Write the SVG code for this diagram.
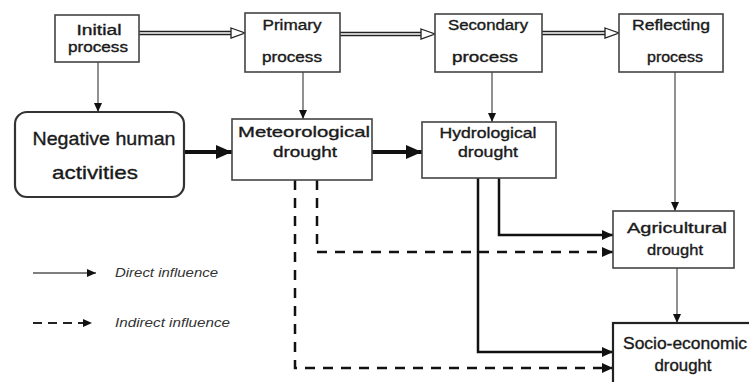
<svg xmlns="http://www.w3.org/2000/svg" width="749" height="382" viewBox="0 0 749 382">
<style>
  .box { fill: #fff; stroke: #444; stroke-width: 1.6; }
  .rbox { fill: #fff; stroke: #333; stroke-width: 2.2; }
  .t { font-family: "Liberation Sans", Arial, sans-serif; fill: #1a1a1a; stroke: #1a1a1a; stroke-width: 0.35; text-anchor: middle; }
  .tp { font-size: 14px; }
  .td { font-size: 15px; }
  .tn { font-size: 19px; }
  .ts { font-size: 16px; }
  .lg { font-family: "Liberation Sans", Arial, sans-serif; font-style: italic; font-size: 12px; fill: #333; }
  .thin { fill: none; stroke: #555; stroke-width: 1.3; }
  .thick { fill: none; stroke: #111; stroke-width: 4; }
  .solid { fill: none; stroke: #111; stroke-width: 2.5; }
  .dash { fill: none; stroke: #111; stroke-width: 2.5; stroke-dasharray: 10 8; }
  .dbl-o { fill: none; stroke: #222; stroke-width: 4.5; }
  .dbl-i { fill: none; stroke: #fff; stroke-width: 1.6; }
  .hollow { fill: #fff; stroke: #222; stroke-width: 1.3; }
</style>
<defs>
  <marker id="big" markerUnits="userSpaceOnUse" markerWidth="16" markerHeight="14" refX="16" refY="7" orient="auto">
    <path d="M0,0 L16,7 L0,14 z" fill="#111"/>
  </marker>
  <marker id="small" markerUnits="userSpaceOnUse" markerWidth="9" markerHeight="8" refX="9" refY="4" orient="auto">
    <path d="M0,0 L9,4 L0,8 z" fill="#111"/>
  </marker>
  <marker id="med" markerUnits="userSpaceOnUse" markerWidth="11" markerHeight="10" refX="11" refY="5" orient="auto">
    <path d="M0,0 L11,5 L0,10 z" fill="#111"/>
  </marker>
</defs>

<g id="connectors">
  <line class="dbl-o" x1="139" y1="33" x2="232" y2="33"/>
  <line class="dbl-i" x1="139" y1="33" x2="232" y2="33"/>
  <polygon class="hollow" points="231,28 245,33 231,38"/>
  <line class="dbl-o" x1="340" y1="34" x2="422" y2="34"/>
  <line class="dbl-i" x1="340" y1="34" x2="422" y2="34"/>
  <polygon class="hollow" points="421,29 435,34 421,39"/>
  <line class="dbl-o" x1="542" y1="33" x2="606" y2="33"/>
  <line class="dbl-i" x1="542" y1="33" x2="606" y2="33"/>
  <polygon class="hollow" points="605,28 619,33 605,38"/>

  <line class="thin" x1="98" y1="62" x2="98" y2="112" marker-end="url(#small)"/>
  <line class="thin" x1="303" y1="72" x2="303" y2="119" marker-end="url(#small)"/>
  <line class="thin" x1="492" y1="72" x2="492" y2="122" marker-end="url(#small)"/>
  <line class="thin" x1="675" y1="72" x2="675" y2="211" marker-end="url(#small)"/>
  <line class="thin" x1="677" y1="268" x2="677" y2="323" marker-end="url(#small)"/>

  <line class="thick" x1="184" y1="152" x2="232" y2="152" marker-end="url(#big)"/>
  <line class="thick" x1="372" y1="152" x2="422" y2="152" marker-end="url(#big)"/>

  <polyline class="solid" points="499,178 499,235 613,235" marker-end="url(#med)"/>
  <polyline class="solid" points="478,178 478,352 613,352" marker-end="url(#med)"/>

  <polyline class="dash" points="317,180 317,252 613,252" marker-end="url(#med)"/>
  <polyline class="dash" points="295,180 295,368 613,368" marker-end="url(#med)"/>
</g>

<g id="initial">
  <rect class="box" x="55" y="15" width="84" height="47"/>
  <text class="t tp" x="99" y="35" textLength="45" lengthAdjust="spacingAndGlyphs">Initial</text>
  <text class="t tp" x="98" y="52" textLength="60" lengthAdjust="spacingAndGlyphs">process</text>
</g>
<g id="primary">
  <rect class="box" x="245" y="13" width="95" height="59"/>
  <text class="t tp" x="292" y="30" textLength="59" lengthAdjust="spacingAndGlyphs">Primary</text>
  <text class="t tp" x="292" y="62" textLength="60" lengthAdjust="spacingAndGlyphs">process</text>
</g>
<g id="secondary">
  <rect class="box" x="435" y="14" width="107" height="58"/>
  <text class="t tp" x="488" y="30" textLength="80" lengthAdjust="spacingAndGlyphs">Secondary</text>
  <text class="t tp" x="485" y="62" textLength="66" lengthAdjust="spacingAndGlyphs">process</text>
</g>
<g id="reflecting">
  <rect class="box" x="619" y="14" width="104" height="58"/>
  <text class="t tp" x="671" y="30" textLength="78" lengthAdjust="spacingAndGlyphs">Reflecting</text>
  <text class="t tp" x="675" y="62" textLength="56" lengthAdjust="spacingAndGlyphs">process</text>
</g>
<g id="negative">
  <rect class="rbox" x="15" y="112" width="169" height="85" rx="12"/>
  <text class="t tn" x="104" y="145" textLength="143" lengthAdjust="spacingAndGlyphs">Negative human</text>
  <text class="t tn" x="95" y="179" textLength="86" lengthAdjust="spacingAndGlyphs">activities</text>
</g>
<g id="meteorological">
  <rect class="box" x="232" y="119" width="140" height="61"/>
  <text class="t td" x="304" y="137" textLength="132" lengthAdjust="spacingAndGlyphs">Meteorological</text>
  <text class="t td" x="305" y="157" textLength="64" lengthAdjust="spacingAndGlyphs">drought</text>
</g>
<g id="hydrological">
  <rect class="box" x="422" y="122" width="134" height="56"/>
  <text class="t td" x="488" y="138" textLength="97" lengthAdjust="spacingAndGlyphs">Hydrological</text>
  <text class="t td" x="488" y="157" textLength="60" lengthAdjust="spacingAndGlyphs">drought</text>
</g>
<g id="agricultural">
  <rect class="box" x="613" y="211" width="121" height="57"/>
  <text class="t td" x="677" y="233" textLength="100" lengthAdjust="spacingAndGlyphs">Agricultural</text>
  <text class="t td" x="675" y="255" textLength="56" lengthAdjust="spacingAndGlyphs">drought</text>
</g>
<g id="socio-economic">
  <rect class="box" x="613" y="323" width="150" height="70" style="stroke:#222;stroke-width:2.2"/>
  <text class="t ts" x="685" y="349" textLength="124" lengthAdjust="spacingAndGlyphs">Socio-economic</text>
  <text class="t ts" x="683" y="371" textLength="57" lengthAdjust="spacingAndGlyphs">drought</text>
</g>

<g id="legend">
  <line class="thin" x1="33" y1="273" x2="96" y2="273" marker-end="url(#small)"/>
  <text class="lg" x="115" y="277" textLength="103" lengthAdjust="spacingAndGlyphs">Direct influence</text>
  <line x1="33" y1="323" x2="92" y2="323" stroke="#222" stroke-width="2.2" stroke-dasharray="9 6" marker-end="url(#small)"/>
  <text class="lg" x="115" y="327" textLength="115" lengthAdjust="spacingAndGlyphs">Indirect influence</text>
</g>
</svg>
